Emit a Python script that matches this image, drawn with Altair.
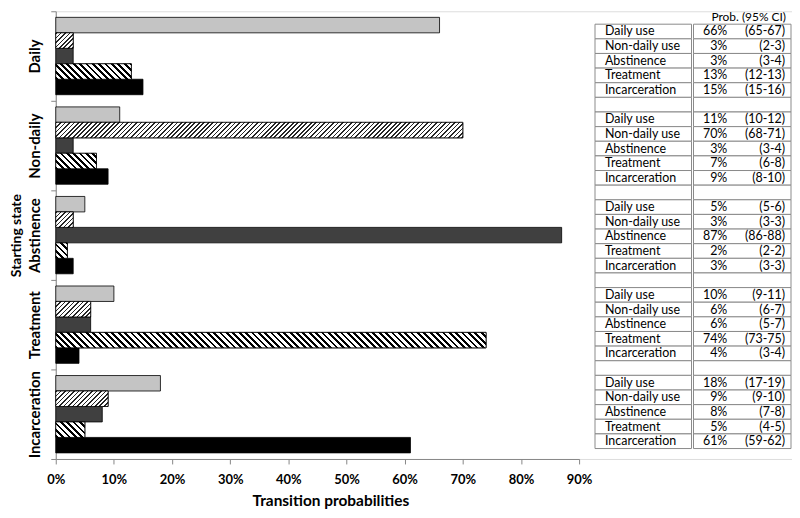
import altair as alt
import pandas as pd

# ---------------- data ----------------
states = ["Daily", "Non-daily", "Abstinence", "Treatment", "Incarceration"]
outcomes = ["Daily use", "Non-daily use", "Abstinence", "Treatment", "Incarceration"]

prob_daily = [66, 3, 3, 13, 15]
prob_nondaily = [11, 70, 3, 7, 9]
prob_abstinence = [5, 3, 87, 2, 3]
prob_treatment = [10, 6, 6, 74, 4]
prob_incarceration = [18, 9, 8, 5, 61]

ci_daily = ["65-67", "2-3", "3-4", "12-13", "15-16"]
ci_nondaily = ["10-12", "68-71", "3-4", "6-8", "8-10"]
ci_abstinence = ["5-6", "3-3", "86-88", "2-2", "3-3"]
ci_treatment = ["9-11", "6-7", "5-7", "73-75", "3-4"]
ci_incarceration = ["17-19", "9-10", "7-8", "4-5", "59-62"]

x_ticks = [0, 10, 20, 30, 40, 50, 60, 70, 80, 90]
table_header = "Prob. (95% CI)"

probs = [prob_daily, prob_nondaily, prob_abstinence, prob_treatment, prob_incarceration]
cis = [ci_daily, ci_nondaily, ci_abstinence, ci_treatment, ci_incarceration]

# ---------------- layout ----------------
PAD_LEFT = 48
W, H = 740, 450
X_RANGE = 526
BAR_PO = 0.394
GROUP = H / len(states)
BAR_H = GROUP / (len(outcomes) + 2 * BAR_PO)
PX_PER_UNIT = X_RANGE / 90.0
FONT = "Lato"
AXIS_GRAY = "#868686"

fills = ["#c4c4c4", "#ffffff", "#404040", "#ffffff", "#000000"]


def hatch(w, h, period, dark_w, dark, light, direction):
    w = max(w, 0.5)
    L = w + h
    c = (1 / h + 1 / w) / (1 / h ** 2 + 1 / w ** 2)
    if direction == "/":
        x1, y1, x2, y2 = 0, 0, c / h, c / w
    else:
        x1, y1, x2, y2 = 0, 1, c / h, 1 - c / w
    stops = [{"offset": 0, "color": light}]
    i = 0
    while True:
        a = i * period / L
        if a >= 1:
            break
        b = min((i * period + dark_w) / L, 1.0)
        a = round(a, 5)
        b = round(b, 5)
        stops += [
            {"offset": a, "color": light},
            {"offset": a, "color": dark},
            {"offset": b, "color": dark},
            {"offset": b, "color": light},
        ]
        i += 1
    stops.append({"offset": 1, "color": light})
    return {"gradient": "linear", "x1": round(x1, 5), "y1": round(y1, 5),
            "x2": round(x2, 5), "y2": round(y2, 5), "stops": stops}


hatch_style = {
    "Non-daily use": dict(period=4.5, dark_w=1.7, dark="#262626", light="#ffffff", direction="/"),
    "Treatment": dict(period=6.4, dark_w=2.8, dark="#000000", light="#ffffff", direction="\\"),
}

rows = []
for s, plist in zip(states, probs):
    for o, p in zip(outcomes, plist):
        rows.append({"state": s, "outcome": o, "value": p})
bars_df = pd.DataFrame(rows)

base = alt.Chart(bars_df).encode(
    x=alt.X(
        "value:Q",
        scale=alt.Scale(domain=[0, 90], range=[0, X_RANGE], nice=False, zero=True),
        axis=alt.Axis(
            values=x_ticks, labelExpr="datum.value + '%'", grid=False,
            domainColor=AXIS_GRAY, tickColor=AXIS_GRAY, tickSize=5,
            labelFont=FONT, labelFontSize=13, labelFontWeight="bold", labelColor="black",
            labelPadding=10, labelFlush=False,
            titleFont=FONT, titleFontSize=15.5, titleFontWeight="bold", titleColor="black",
            titleY=42, titleX=276, titleBaseline="middle", titleAlign="center",
        ),
        title="Transition probabilities",
    ),
    y=alt.Y(
        "state:N",
        scale=alt.Scale(domain=states, paddingInner=0, paddingOuter=0),
        axis=alt.Axis(
            tickBand="extent", labelAngle=270, labelAlign="center", labelBaseline="middle",
            labelPadding=16, tickSize=5, domainColor=AXIS_GRAY, tickColor=AXIS_GRAY,
            labelFont=FONT, labelFontSize=15, labelFontWeight="bold", labelColor="black",
            labelOverlap=False, labelLimit=200,
            titleFont=FONT, titleFontSize=14, titleFontWeight="bold", titleColor="black",
            titleAngle=270, titleX=-39, titleY=H / 2, titleBaseline="middle", titleAlign="center",
        ),
        title="Starting state",
    ),
    yOffset=alt.YOffset(
        "outcome:N", scale=alt.Scale(domain=outcomes, paddingInner=0, paddingOuter=BAR_PO)
    ),
)

plain = base.mark_bar(stroke="black", strokeWidth=0.8).encode(
    fill=alt.Fill("outcome:N", scale=alt.Scale(domain=outcomes, range=fills), legend=None)
)

bar_layers = [plain]
for s, plist in zip(states, probs):
    for o, p in zip(outcomes, plist):
        if o in hatch_style:
            g = hatch(p * PX_PER_UNIT, BAR_H, **hatch_style[o])
            bar_layers.append(
                base.transform_filter(
                    (alt.datum.state == s) & (alt.datum.outcome == o)
                ).mark_bar(fill=g, stroke="black", strokeWidth=0.8)
            )
bars = alt.layer(*bar_layers)

# ---------------- table ----------------
TBL_X0, TBL_X1 = 542, 739          # table extent (plot coordinates)
COL_EDGES = [(0, 97), (99, 197)]   # cell edges in table units
LABEL_X, PCT_X, CI_X, HEAD_X = 10, 133, 191, 192
ROW_TOP, ROW_BOTTOM = 13, 439.5

cell_rows = []
text_rows = []
r = 1
for gi, (plist, clist) in enumerate(zip(probs, cis)):
    for o, p, c in zip(outcomes, plist, clist):
        for (a, b) in COL_EDGES:
            cell_rows.append({"x0": a, "x1": b, "r0": r, "r1": r + 1})
        text_rows.append({"row": r + 0.5, "label": o, "pct": f"{p}%", "ci": f"({c})"})
        r += 1
    if gi < len(probs) - 1:
        for (a, b) in COL_EDGES:
            cell_rows.append({"x0": a, "x1": b, "r0": r, "r1": r + 1})
        r += 1
n_rows = r - 1

tx = alt.Scale(domain=[0, 197], range=[TBL_X0, TBL_X1])
ty = alt.Scale(domain=[1, n_rows + 1], range=[ROW_TOP, ROW_BOTTOM], zero=False, nice=False)

cells = alt.Chart(pd.DataFrame(cell_rows)).mark_rect(
    fill="white", stroke="#8a8a8a", strokeWidth=1
).encode(
    x=alt.X("x0:Q", scale=tx, axis=None),
    x2="x1:Q",
    y=alt.Y("r0:Q", scale=ty, axis=None),
    y2="r1:Q",
)

tdf = pd.DataFrame(text_rows)
tbase = alt.Chart(tdf).encode(y=alt.Y("row:Q", scale=ty, axis=None))
t_label = tbase.mark_text(align="left", baseline="middle", font=FONT, fontSize=12.5, color="black").encode(
    x=alt.X("lx:Q", scale=tx, axis=None), text="label:N"
).transform_calculate(lx=str(LABEL_X))
t_pct = tbase.mark_text(align="right", baseline="middle", font=FONT, fontSize=12.5, color="black").encode(
    x=alt.X("px:Q", scale=tx, axis=None), text="pct:N"
).transform_calculate(px=str(PCT_X))
t_ci = tbase.mark_text(align="right", baseline="middle", font=FONT, fontSize=12.5, color="black").encode(
    x=alt.X("cx:Q", scale=tx, axis=None), text="ci:N"
).transform_calculate(cx=str(CI_X))

head = alt.Chart(pd.DataFrame({"t": [table_header], "row": [0.5], "hx": [HEAD_X]})).mark_text(
    align="right", baseline="middle", font=FONT, fontSize=12, color="black"
).encode(
    x=alt.X("hx:Q", scale=tx, axis=None),
    y=alt.Y("row:Q", scale=ty, axis=None),
    text="t:N",
)

table = alt.layer(cells, t_label, t_pct, t_ci, head)

chart = alt.layer(bars, table).resolve_scale(x="independent", y="independent").properties(
    width=W, height=H,
    autosize=alt.AutoSizeParams(type="none"),
    padding={"left": PAD_LEFT, "top": 2, "right": 0, "bottom": 50},
).configure_view(stroke=None).configure(background="white")

chart.save("out.html", embed_options={"renderer": "svg", "actions": False})
